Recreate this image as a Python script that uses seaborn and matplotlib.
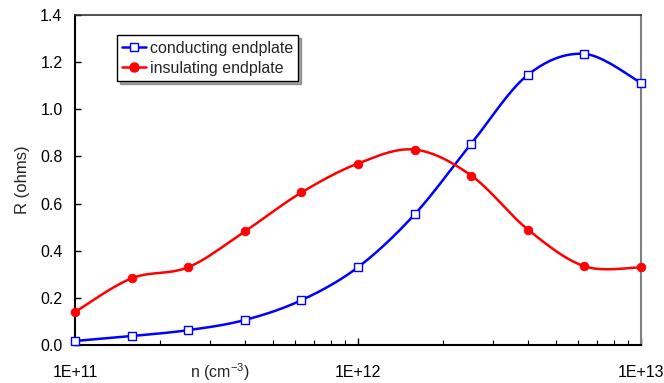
import numpy as np
import pandas as pd
import matplotlib
matplotlib.use("Agg")
import matplotlib.pyplot as plt
import seaborn as sns
from matplotlib.ticker import FixedLocator, LogLocator, FuncFormatter, NullFormatter
from matplotlib.lines import Line2D

# ---- data ----
n_vals = [1.0e11, 1.585e11, 2.512e11, 3.981e11, 6.310e11, 1.0e12,
          1.585e12, 2.512e12, 3.981e12, 6.310e12, 1.0e13]
r_conducting = [0.017, 0.038, 0.063, 0.106, 0.19, 0.33, 0.554, 0.854, 1.146, 1.235, 1.112]
r_insulating = [0.14, 0.283, 0.33, 0.482, 0.647, 0.77, 0.829, 0.719, 0.49, 0.334, 0.33]
series_names = ["conducting endplate", "insulating endplate"]
xtick_vals = [1e11, 1e12, 1e13]
xtick_labels = ["1E+11", "1E+12", "1E+13"]
ytick_vals = [0.0, 0.2, 0.4, 0.6, 0.8, 1.0, 1.2, 1.4]

sns.set_theme(style="white")
plt.rcParams["font.family"] = ["Liberation Sans", "DejaVu Sans"]
plt.rcParams["mathtext.fontset"] = "custom"
plt.rcParams["mathtext.rm"] = "Liberation Sans"
plt.rcParams["mathtext.it"] = "Liberation Sans:italic"

df = pd.DataFrame({
    "n": n_vals * 2,
    "R": r_conducting + r_insulating,
    "series": [series_names[0]] * len(n_vals) + [series_names[1]] * len(n_vals),
})

def smooth(xs, ys, k=20):
    # Catmull-Rom (Excel-style smoothing) in log-x space
    lx = np.log10(np.asarray(xs, float)); y = np.asarray(ys, float)
    P = np.column_stack([lx, y])
    P = np.vstack([P[0], P, P[-1]])
    out = []
    for i in range(1, len(P) - 2):
        p0, p1, p2, p3 = P[i - 1], P[i], P[i + 1], P[i + 2]
        c1 = p1 + (p2 - p0) / 6.0
        c2 = p2 - (p3 - p1) / 6.0
        t = np.linspace(0, 1, k, endpoint=(i == len(P) - 3))[:, None]
        seg = (1 - t) ** 3 * p1 + 3 * (1 - t) ** 2 * t * c1 + 3 * (1 - t) * t ** 2 * c2 + t ** 3 * p2
        out.append(seg)
    out = np.vstack(out)
    return 10 ** out[:, 0], out[:, 1]

fig = plt.figure(figsize=(6.64, 3.83), dpi=100)
ax = fig.add_axes([75 / 664, 38 / 383, 566 / 664, 330 / 383])

colors = {series_names[0]: "#0000FF", series_names[1]: "#FF0000"}
for name, vals in zip(series_names, [r_conducting, r_insulating]):
    sx, sy = smooth(n_vals, vals)
    ax.plot(sx, sy, color=colors[name], lw=1.8, zorder=2, clip_on=False)

sns.scatterplot(data=df[df.series == series_names[0]], x="n", y="R", ax=ax,
                marker="s", s=40, facecolor="white", edgecolor="#0000FF", linewidth=1.0,
                zorder=3, legend=False, clip_on=False)
sns.scatterplot(data=df[df.series == series_names[1]], x="n", y="R", ax=ax,
                marker="o", s=40, color="#FF0000", edgecolor="#FF0000", linewidth=0.5,
                zorder=3, legend=False, clip_on=False)

ax.set_xscale("log")
ax.set_xlim(1e11, 1e13)
ax.set_ylim(0, 1.4)
ax.xaxis.set_major_locator(FixedLocator(xtick_vals))
ax.xaxis.set_major_formatter(FuncFormatter(lambda v, p: xtick_labels[xtick_vals.index(v)] if v in xtick_vals else ""))
ax.xaxis.set_minor_locator(LogLocator(base=10, subs=np.arange(2, 10)))
ax.xaxis.set_minor_formatter(NullFormatter())
ax.set_yticks(ytick_vals)
ax.yaxis.set_major_formatter(FuncFormatter(lambda v, p: f"{v:.1f}"))

ax.tick_params(axis="both", which="both", direction="in", labelsize=11.5, colors="black",
               bottom=True, left=True, top=False, right=False)
ax.tick_params(axis="x", which="major", length=5, width=1, pad=14.5)
ax.tick_params(axis="x", which="minor", length=3.5, width=0.8)
ax.tick_params(axis="y", which="major", length=4, width=1, pad=9)

for s in ["left", "bottom"]:
    ax.spines[s].set_color("black"); ax.spines[s].set_linewidth(1.5)
ax.spines["top"].set_color("#333333"); ax.spines["top"].set_linewidth(1.2)
ax.spines["right"].set_color("#808080"); ax.spines["right"].set_linewidth(1.5)

ax.text(0.256, -0.082, "n (cm$^{-3}$)", transform=ax.transAxes, ha="center",
        va="center", fontsize=11.5)
ax.set_ylabel("R (ohms)", fontsize=12)
ax.yaxis.set_label_coords(-(75 - 30) / 566, 0.5)

handles = [Line2D([], [], color="#0000FF", lw=1.8, marker="s", markersize=6,
                  markerfacecolor="white", markeredgecolor="#0000FF"),
           Line2D([], [], color="#FF0000", lw=1.8, marker="o", markersize=6.5,
                  markerfacecolor="#FF0000", markeredgecolor="#FF0000")]
leg = ax.legend(handles, series_names, loc="upper left", bbox_to_anchor=(0.074, 0.939),
                fontsize=11.5, frameon=True, fancybox=False, shadow=True,
                handlelength=1.45, handletextpad=0.25, borderpad=0.35, labelspacing=0.3,
                borderaxespad=0)
leg.get_frame().set_edgecolor("black")
leg.get_frame().set_linewidth(1.0)

fig.savefig("out.png", dpi=100)
